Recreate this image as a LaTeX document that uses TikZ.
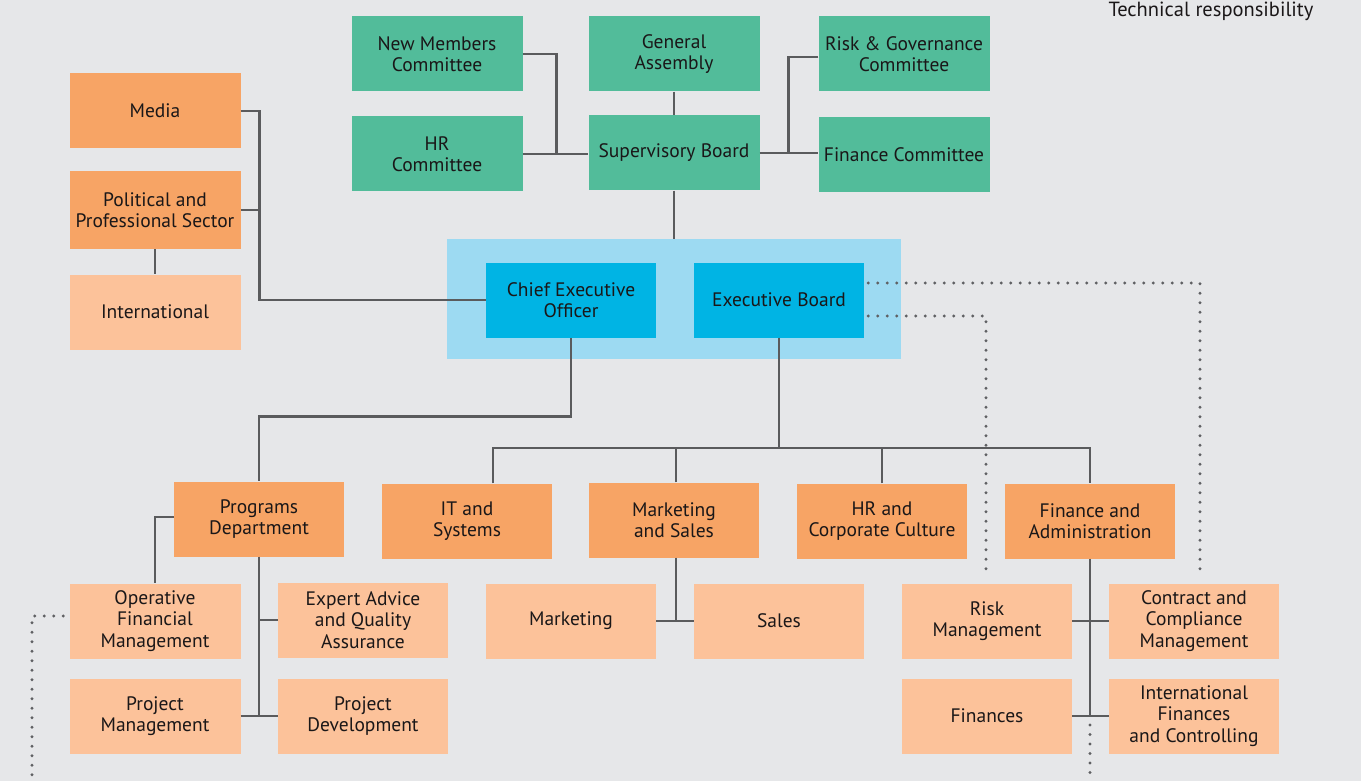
\documentclass[tikz,border=0pt]{standalone}
\usepackage{fontspec}
\setmainfont{PT Sans}
\usetikzlibrary{calc}
\definecolor{cbg}{HTML}{E6E7E9}
\definecolor{cgreen}{HTML}{52BC9A}
\definecolor{corange}{HTML}{F7A465}
\definecolor{clight}{HTML}{FCC29A}
\definecolor{cblue}{HTML}{00B4E4}
\definecolor{cblueback}{HTML}{9DDAF2}
\definecolor{cline}{HTML}{5A5B5D}
\definecolor{cdot}{HTML}{5F6063}
\definecolor{ctext}{HTML}{1A1718}
\newcommand{\boxfont}{\fontsize{19.5}{21.5}\selectfont}
\tikzset{
  box/.style={minimum width=171pt, minimum height=75pt, inner sep=0pt, align=center, font=\boxfont, text=ctext},
  gbox/.style={box, fill=cgreen},
  obox/.style={box, fill=corange},
  lbox/.style={box, fill=clight},
  bbox/.style={box, fill=cblue, minimum width=170pt},
  conn/.style={draw=cline, line width=2.5pt},
  dots/.style={draw=cdot, line width=3.2pt, line cap=round, dash pattern=on 0pt off 9.5pt},
}
\begin{document}
\begin{tikzpicture}[x=1pt,y=-1pt]
\useasboundingbox (0,0) rectangle (1361,781);
\fill[cbg] (0,0) rectangle (1361,781);
\node[font=\fontsize{20.5}{22}\selectfont, text=ctext, inner sep=0pt, anchor=base] (tr) at (1211,16.5) {Technical responsibility};
% background of executive area
\node[fill=cblueback, minimum width=454pt, minimum height=120pt, inner sep=0pt] (bg) at (674,299) {};
% green
\node[gbox] (nm) at (437,54) {New Members\\Committee};
\node[gbox] (ga) at (674,54) {General\\Assembly};
\node[gbox] (rg) at (904,54) {Risk \& Governance\\Committee};
\node[gbox] (hrc) at (437,154) {HR\\Committee};
\node[gbox] (sb) at (674,153) {Supervisory Board};
\node[gbox] (fc) at (904,155) {Finance Committee};
% left
\node[obox] (media) at (155,111) {Media};
\node[obox, minimum height=78pt] (pol) at (155,210) {Political and\\Professional Sector};
\node[lbox] (intl) at (155,312) {International};
% blue
\node[bbox] (ceo) at (571,300) {Chief Executive\\Officer};
\node[bbox] (eb) at (779,300) {Executive Board};
% orange row
\node[obox, minimum width=170pt] (prog) at (259,519) {Programs\\Department};
\node[obox, minimum width=170pt] (it) at (467,521) {IT and\\Systems};
\node[obox, minimum width=170pt] (ms) at (674,520) {Marketing\\and Sales};
\node[obox, minimum width=170pt] (hrcc) at (882,521) {HR and\\Corporate Culture};
\node[obox, minimum width=170pt] (fa) at (1090,521) {Finance and\\Administration};
% light row
\node[lbox] (ofm) at (155,621) {Operative\\Financial\\Management};
\node[lbox, minimum width=170pt] (ea) at (363,620) {Expert Advice\\and Quality\\Assurance};
\node[lbox] (pm) at (155,716) {Project\\Management};
\node[lbox, minimum width=170pt] (pd) at (363,716) {Project\\Development};
\node[lbox, minimum width=170pt] (mkt) at (571,621) {Marketing};
\node[lbox, minimum width=170pt] (sales) at (779,621) {Sales};
\node[lbox, minimum width=170pt] (risk) at (987,621) {Risk\\Management};
\node[lbox, minimum width=170pt] (ccm) at (1194,621) {Contract and\\Compliance\\Management};
\node[lbox, minimum width=170pt] (fin) at (987,716) {Finances};
\node[lbox, minimum width=170pt] (ifc) at (1194,716) {International\\Finances\\and Controlling};
% free ends
\coordinate (dl) at (32,781);
\coordinate (dr) at (1090,781);
\coordinate (busL) at (493,448);
% dotted lines
\draw[dots] ([xshift=4pt,yshift=17pt]eb.east) -| ([xshift=6pt,yshift=8pt]ccm.north);
\draw[dots] ([xshift=4pt,yshift=-16pt]eb.east) -| ([xshift=-1pt,yshift=8pt]risk.north);
\draw[dots] ([xshift=-6pt,yshift=5pt]ofm.west) -| (dl);
\draw[dots] ([yshift=-9pt]fa.south |- ifc.west) -- (dr);
% solid connectors
\draw[conn] (nm.east) -- ++(34,0) |- (hrc.east);
\draw[conn] (hrc.east) -- (hrc.east -| sb.west);
\draw[conn] (ga.south) -- (sb.north);
\draw[conn] ([yshift=-3pt]rg.west) -- ++(-30,0) |- (sb.east);
\draw[conn] (sb.east) -- (sb.east -| fc.west);
\draw[conn] (sb.south) -- (bg.north);
\draw[conn] (media.east) -- ++(19,0) |- (ceo.west);
\draw[conn] (pol.east) -- ++(19,0);
\draw[conn] (pol.south) -- (intl.north);
\draw[conn] (ceo.south) -- ++(0,79) -| (prog.north);
\draw[conn] (eb.south) -- (eb.south |- busL);
\draw[conn] (it.north -| busL) -- (busL) -| (fa.north);
\draw[conn] ([xshift=2pt]ms.north) -- ([xshift=2pt]ms.north |- busL);
\draw[conn] (hrcc.north) -- (hrcc.north |- busL);
\draw[conn] ([yshift=2pt]prog.west) -| (ofm.north);
\draw[conn] (prog.south) -- (prog.south |- pd.west);
\draw[conn] (prog.south |- ea.west) -- (ea.west);
\draw[conn] (pm.east) -- (pd.west);
\draw[conn] ([xshift=2pt]ms.south) -- ([xshift=2pt]ms.south |- sales.west);
\draw[conn] (mkt.east) -- (sales.west);
\draw[conn] (fa.south) -- (fa.south |- ifc.west);
\draw[conn] (risk.east) -- (ccm.west);
\draw[conn] (fin.east) -- (ifc.west);
\end{tikzpicture}
\end{document}
